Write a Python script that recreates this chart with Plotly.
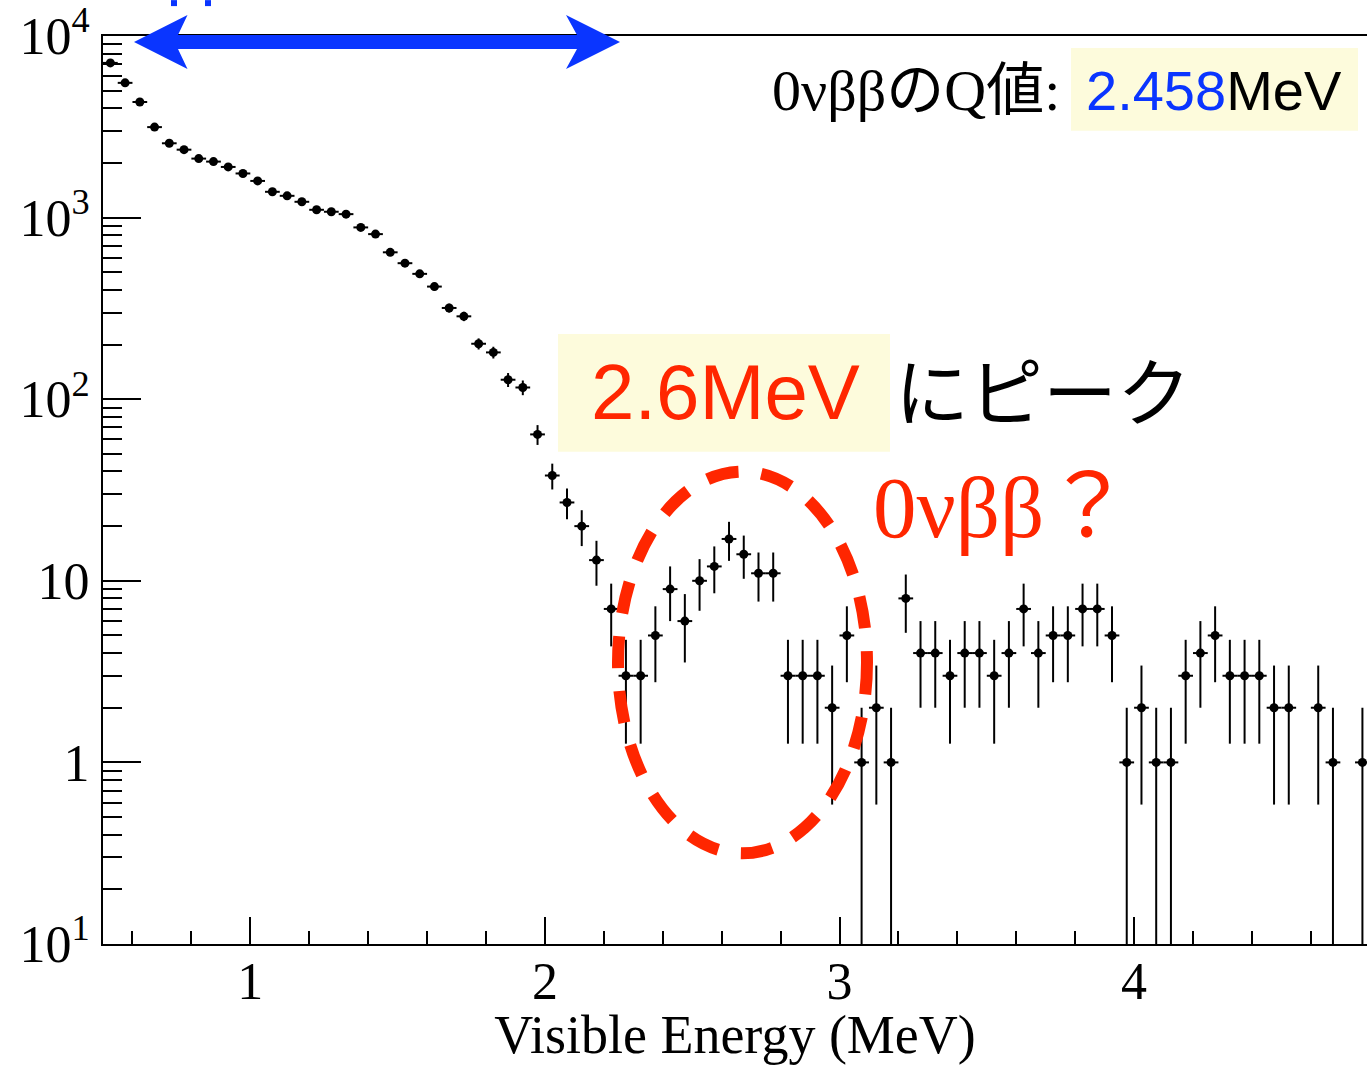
import numpy as np
import plotly.graph_objects as go

# ---------------- data ----------------
bin_low = 0.5
bin_width = 0.05
counts = [7110, 5520, 4330, 3150, 2566, 2366, 2113, 2034, 1901, 1750,
          1592, 1387, 1318, 1222, 1104, 1077, 1045, 883, 811, 644,
          561, 490, 417, 318, 286, 202, 181, 128, 116, 64,
          38, 27, 20, 13, 7, 3, 3, 5, 9, 6,
          10, 12, 17, 14, 11, 11, 3, 3, 3, 2,
          5, 1, 2, 1, 8, 4, 4, 3, 4, 4,
          3, 4, 7, 4, 5, 5, 7, 7, 5, 1,
          2, 1, 1, 3, 4, 5, 3, 3, 3, 2,
          2, 0, 2, 1, 0, 1]
x_tick_vals = [1, 2, 3, 4]
x_tick_text = ["1", "2", "3", "4"]
y_tick_vals = [0.1, 1, 10, 100, 1000, 10000]
y_tick_text = ["10<sup>1</sup>", "1", "10", "10<sup>2</sup>", "10<sup>3</sup>", "10<sup>4</sup>"]
x_title = "Visible Energy (MeV)"

centers = [bin_low + bin_width * (i + 0.5) for i in range(len(counts))]
ys = [c if c > 0 else None for c in counts]
errs = [float(np.sqrt(c)) if c > 0 else None for c in counts]

x_minor = [round(0.6 + 0.2 * k, 2) for k in range(22)]
x_minor = [v for v in x_minor if abs(v - round(v)) > 1e-6]
y_minor = [m * 10.0 ** e for e in range(-1, 4) for m in range(2, 10)]

# ------------- geometry helpers (pixel -> paper) -------------
L, R, T, B = 103, 1367, 36, 947
def px(x):
    return (x - L) / (R - L)
def py(y):
    return (B - y) / (B - T)

BLUE = "#0A35FF"
RED = "#FF2600"
CREAM = "#FDFBDC"

fig = go.Figure()
fig.add_trace(go.Scatter(
    x=centers, y=ys, mode="markers",
    marker=dict(color="black", size=9, symbol="circle"),
    error_x=dict(type="constant", value=bin_width / 2, color="black", thickness=2, width=0),
    error_y=dict(type="data", array=errs, color="black", thickness=2, width=0, symmetric=True),
    cliponaxis=True, showlegend=False,
))

serif = "Liberation Serif, Noto Sans CJK JP"
sans = "Liberation Sans, Arial"

fig.update_layout(
    width=1367, height=1065,
    margin=dict(l=L, r=0, t=T, b=1065 - B, pad=0),
    paper_bgcolor="white", plot_bgcolor="white", showlegend=False,
    xaxis=dict(
        range=[0.5, 0.5 + (R - L) / 294.6],
        tickmode="array", tickvals=x_tick_vals, ticktext=x_tick_text,
        ticks="inside", ticklen=27, tickwidth=2, tickcolor="black",
        showline=True, linecolor="black", linewidth=2, mirror=True,
        showgrid=False, zeroline=False,
        tickfont=dict(family=serif, size=52, color="black"),
        ticklabelstandoff=-9,
        minor=dict(tickmode="array", tickvals=x_minor, ticks="inside", ticklen=13,
                   tickwidth=2, tickcolor="black", showgrid=False),
        title=dict(text=x_title, font=dict(family=serif, size=54, color="black"), standoff=17),
    ),
    yaxis=dict(
        type="log", range=[-1, 4],
        tickmode="array", tickvals=y_tick_vals, ticktext=y_tick_text,
        ticks="inside", ticklen=38, tickwidth=2, tickcolor="black",
        showline=True, linecolor="black", linewidth=2, mirror=False,
        showgrid=False, zeroline=False,
        tickfont=dict(family=serif, size=52, color="black"),
        ticklabelstandoff=1,
        minor=dict(tickmode="array", tickvals=y_minor, ticks="inside", ticklen=19,
                   tickwidth=2, tickcolor="black", showgrid=False),
    ),
)

shapes = []
# cream boxes
shapes.append(dict(type="rect", xref="paper", yref="paper", x0=px(1071), x1=px(1358),
                   y0=py(131), y1=py(48), fillcolor=CREAM, line=dict(width=0), layer="below"))
shapes.append(dict(type="rect", xref="paper", yref="paper", x0=px(558), x1=px(890),
                   y0=py(453), y1=py(335), fillcolor=CREAM, line=dict(width=0), layer="below"))
# dashed ellipse
shapes.append(dict(type="circle", xref="paper", yref="paper", x0=px(618), x1=px(867),
                   y0=py(856), y1=py(473), line=dict(color=RED, width=12, dash="32px,23px"),
                   fillcolor="rgba(0,0,0,0)", layer="above"))
# double arrow
pts = [(134, 42), (187.5, 15), (178, 35), (577, 35), (566, 15), (620, 42),
       (566, 69), (577, 49), (178, 49), (187.5, 69)]
path = "M " + " L ".join(f"{px(a):.5f},{py(b):.5f}" for a, b in pts) + " Z"
shapes.append(dict(type="path", xref="paper", yref="paper", path=path,
                   fillcolor=BLUE, line=dict(width=0), layer="above"))
# cropped blue marks at the very top
for a in (171, 205):
    shapes.append(dict(type="rect", xref="paper", yref="paper", x0=px(a), x1=px(a + 6),
                       y0=py(6), y1=py(0), fillcolor=BLUE, line=dict(width=0), layer="above"))
fig.update_layout(shapes=shapes)

ann = []
ann.append(dict(text="0νββのQ値:", xref="paper", yref="paper", x=px(1062), y=py(91),
                xanchor="right", yanchor="middle", showarrow=False,
                font=dict(family=serif, size=58, color="black")))
ann.append(dict(text=f"<span style='color:{BLUE}'>2.458</span>MeV", xref="paper", yref="paper",
                x=px(1084), y=py(91), xanchor="left", yanchor="middle", showarrow=False,
                font=dict(family=sans, size=56, color="black")))
ann.append(dict(text="2.6MeV", xref="paper", yref="paper", x=px(589), y=py(393),
                xanchor="left", yanchor="middle", showarrow=False,
                font=dict(family=sans, size=78, color=RED)))
ann.append(dict(text="にピーク", xref="paper", yref="paper", x=px(893), y=py(389),
                xanchor="left", yanchor="middle", showarrow=False,
                font=dict(family="Noto Sans CJK JP", size=74, color="black")))
ann.append(dict(text="0νββ？", xref="paper", yref="paper", x=px(871), y=py(509),
                xanchor="left", yanchor="middle", showarrow=False,
                font=dict(family=serif, size=87, color=RED)))
fig.update_layout(annotations=ann)

fig.write_html("out.html")
